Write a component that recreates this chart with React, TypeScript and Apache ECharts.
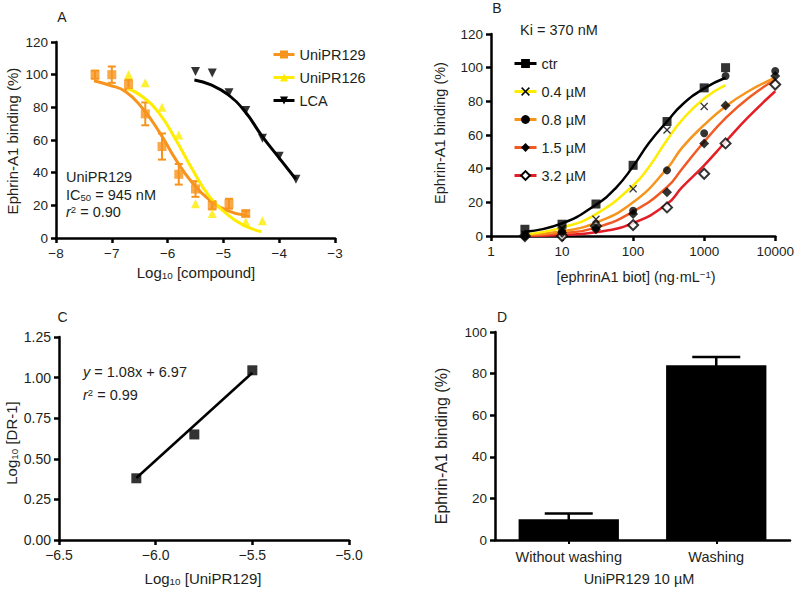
import React, { useEffect, useRef } from "react";
import * as echarts from "echarts";

const FONT = '"Liberation Sans", Arial, Helvetica, sans-serif';
const TXT = "#231f20";
const BLACK = "#000000";
const ORANGE = "#f7941d";
const YELLOW = "#ffec00";
const RED_ORANGE = "#f15a24";
const RED = "#e41e26";

// ---------- Panel A ----------
const aYTicks = { min: 0, max: 120, step: 20 };
const aXTicks = { min: -8, max: -3, step: 1 };
// [log10 conc, % binding, error]
const uni129Points = [
  [-7.3, 100, 2.5], [-7.0, 100, 5], [-6.7, 94, 3], [-6.4, 76, 7], [-6.1, 56, 8],
  [-5.8, 39, 6.3], [-5.5, 30, 4.8], [-5.2, 20, 2.5], [-4.9, 21, 3], [-4.6, 15, 1.5],
];
const uni129Fit = [
  [-7.32, 96.3], [-7.05, 93.7], [-6.75, 89.6], [-6.45, 79.4], [-6.15, 65],
  [-5.85, 47.8], [-5.55, 33.5], [-5.25, 23.3], [-4.95, 17.1], [-4.62, 14],
];
const uni126Points = [
  [-6.7, 100], [-6.4, 95], [-6.1, 80], [-5.8, 63], [-5.5, 21], [-5.2, 15], [-4.6, 10], [-4.3, 10.5],
];
const uni126Fit = [
  [-6.72, 91.7], [-6.45, 86.5], [-6.15, 76.3], [-5.85, 60], [-5.55, 41.6],
  [-5.25, 25.3], [-4.95, 15.1], [-4.65, 8], [-4.32, 3.9],
];
const lcaPoints = [
  [-5.5, 102], [-5.2, 101], [-4.9, 89], [-4.6, 78], [-4.3, 61], [-4.0, 50], [-3.7, 36],
];
const lcaFit = [
  [-5.52, 96.7], [-5.22, 93.7], [-4.91, 87.6], [-4.61, 77.3], [-4.32, 63], [-4.02, 49.8], [-3.7, 36],
];

// ---------- Panel B ----------
const bYTicks = { min: 0, max: 120, step: 20 };
const bXRange = { min: 1, max: 10000 };
const ctrPoints = [[3, 4], [10, 7], [30, 19], [100, 42], [300, 68], [1000, 88], [2000, 100]];
const ctrFit = [[3, 2.5], [10, 7.5], [30, 18.6], [57, 28.5], [100, 41.4], [167, 55.2], [300, 68], [490, 78], [1000, 87.7], [2000, 94]];
const c04Points = [[3, 1], [10, 4.5], [30, 10], [100, 28], [300, 63], [1000, 77]];
const c04Fit = [[3, 1], [10, 5], [30, 13], [100, 30], [167, 41], [300, 57], [490, 69], [1000, 81.7], [2000, 89.6]];
const c08Points = [[3, 0], [10, 3], [30, 5], [100, 15], [300, 39], [1000, 61], [2000, 95], [10000, 98]];
const c08Fit = [[3, 0.6], [10, 2.8], [30, 8], [100, 20], [300, 40], [490, 52.5], [1000, 66], [2000, 77], [4200, 86], [10000, 94]];
const c15Points = [[3, 0], [10, 2], [30, 4], [100, 13], [300, 26], [1000, 55], [2000, 77.5], [10000, 95]];
const c15Fit = [[3, 0.3], [10, 1.6], [30, 5], [100, 14.5], [300, 29], [490, 40], [1000, 56], [2000, 70], [4200, 82], [10000, 93]];
const c32Points = [[3, 0], [10, 0], [30, 6], [100, 6.5], [300, 17], [1000, 37], [2000, 55], [10000, 90]];
const c32Fit = [[3, 0], [10, 0.6], [30, 2.2], [100, 7.7], [300, 19], [490, 29], [1000, 42], [2000, 56], [4200, 70.7], [10000, 86]];

// ---------- Panel C ----------
const cYTicks = { min: 0, max: 1.25, step: 0.25 };
const cXTicks = { min: -6.5, max: -5.0, step: 0.5 };
const schildPoints = [[-6.1, 0.38], [-5.8, 0.65], [-5.5, 1.045]];
const schildLine = [[-6.1, 0.382], [-5.5, 1.03]];

// ---------- Panel D ----------
const dYTicks = { min: 0, max: 100, step: 20 };
const washCategories = ["Without washing", "Washing"];
const washValues = [10, 84];
const washErrors = [2.8, 4];

const minus = (s: string) => s.replace("-", "\u2212");

function errRender(color: string, capHalf: number, lw: number, lowerCap = true) {
  return (_params: any, api: any) => {
    const x = api.value(0);
    const y = api.value(1);
    const e = api.value(2);
    const hi = api.coord([x, y + e]);
    const lo = api.coord([x, y - e]);
    const st = { stroke: color, lineWidth: lw };
    const children: any[] = [
      { type: "line", shape: { x1: hi[0], y1: hi[1], x2: lo[0], y2: lo[1] }, style: st },
      { type: "line", shape: { x1: hi[0] - capHalf, y1: hi[1], x2: hi[0] + capHalf, y2: hi[1] }, style: st },
    ];
    if (lowerCap)
      children.push({ type: "line", shape: { x1: lo[0] - capHalf, y1: lo[1], x2: lo[0] + capHalf, y2: lo[1] }, style: st });
    return { type: "group", children };
  };
}

const X_SYMBOL = "path://M0,1.2L1.2,0L5,3.8L8.8,0L10,1.2L6.2,5L10,8.8L8.8,10L5,6.2L1.2,10L0,8.8L3.8,5Z";

function axisCommon(fontSize: number) {
  return {
    axisLine: { show: true, onZero: false, lineStyle: { color: BLACK, width: 2.5 } },
    axisTick: { show: true, length: 5, lineStyle: { color: BLACK, width: 2.5 } },
    axisLabel: { color: TXT, fontSize, fontFamily: FONT, margin: 8 },
    splitLine: { show: false },
  };
}

function rich(size: number) {
  return {
    n: { fontSize: size, fontFamily: FONT, fill: TXT, color: TXT, lineHeight: size + 1 },
    i: { fontSize: size, fontFamily: FONT, fill: TXT, color: TXT, fontStyle: "italic", lineHeight: size + 1 },
    sub: { fontSize: size * 0.66, fontFamily: FONT, fill: TXT, color: TXT, verticalAlign: "bottom", lineHeight: 8 },
    sup: { fontSize: size * 0.66, fontFamily: FONT, fill: TXT, color: TXT, verticalAlign: "top", lineHeight: 8 },
  };
}

function txt(x: number, y: number, text: string, size: number, align = "left", rotation = 0) {
  return {
    type: "text",
    x,
    y,
    rotation,
    silent: true,
    style: {
      text,
      rich: rich(size),
      fontSize: size,
      fontFamily: FONT,
      fill: TXT,
      align,
      textAlign: align,
      verticalAlign: "middle",
      textVerticalAlign: "middle",
    },
  };
}

function buildOption(): any {
  const lineBase = { smooth: true, showSymbol: false, silent: true, emphasis: { disabled: true } };
  return {
    animation: false,
    backgroundColor: "#ffffff",
    grid: [
      { left: 56, top: 42, width: 279, height: 196 },
      { left: 491, top: 34, width: 286, height: 202 },
      { left: 59, top: 337, width: 290, height: 203 },
      { left: 495, top: 332, width: 295, height: 208 },
    ],
    xAxis: [
      {
        gridIndex: 0, type: "value", min: aXTicks.min, max: aXTicks.max, interval: aXTicks.step,
        ...axisCommon(13.5),
        axisLabel: { color: TXT, fontSize: 13.5, fontFamily: FONT, margin: 8, formatter: (v: number) => minus(String(v)) },
      },
      {
        gridIndex: 1, type: "log", logBase: 10, min: bXRange.min, max: bXRange.max,
        ...axisCommon(13.5),
        axisLabel: { color: TXT, fontSize: 13.5, fontFamily: FONT, margin: 8, formatter: (v: number) => String(Math.round(v)) },
        minorTick: { show: false },
      },
      {
        gridIndex: 2, type: "value", min: cXTicks.min, max: cXTicks.max, interval: cXTicks.step,
        ...axisCommon(14),
        axisLabel: { color: TXT, fontSize: 14, fontFamily: FONT, margin: 8, formatter: (v: number) => minus(v.toFixed(1)) },
      },
      {
        gridIndex: 3, type: "category", data: washCategories, boundaryGap: true,
        axisLine: { show: true, onZero: false, lineStyle: { color: BLACK, width: 2.5 } },
        axisTick: { show: true, alignWithLabel: true, length: 4, lineStyle: { color: BLACK, width: 2 } },
        axisLabel: { color: TXT, fontSize: 14.5, fontFamily: FONT, margin: 9 },
        splitLine: { show: false },
      },
    ],
    yAxis: [
      { gridIndex: 0, type: "value", min: aYTicks.min, max: aYTicks.max, interval: aYTicks.step, ...axisCommon(13.5) },
      { gridIndex: 1, type: "value", min: bYTicks.min, max: bYTicks.max, interval: bYTicks.step, ...axisCommon(13.5) },
      {
        gridIndex: 2, type: "value", min: cYTicks.min, max: cYTicks.max, interval: cYTicks.step,
        ...axisCommon(14),
        axisLabel: { color: TXT, fontSize: 14, fontFamily: FONT, margin: 8, formatter: (v: number) => v.toFixed(2) },
      },
      { gridIndex: 3, type: "value", min: dYTicks.min, max: dYTicks.max, interval: dYTicks.step, ...axisCommon(13.5) },
    ],
    legend: [
      {
        data: ["UniPR129", "UniPR126", "LCA"],
        orient: "vertical", left: 272, top: 47, padding: 0,
        itemWidth: 21, itemHeight: 10, itemGap: 8,
        selectedMode: false,
        lineStyle: { width: 3 },
        textStyle: { color: TXT, fontSize: 14.5, fontFamily: FONT },
      },
      {
        data: ["ctr", "0.4 \u00b5M", "0.8 \u00b5M", "1.5 \u00b5M", "3.2 \u00b5M"],
        orient: "vertical", left: 513, top: 56, padding: 0,
        itemWidth: 22, itemHeight: 11, itemGap: 13,
        selectedMode: false,
        lineStyle: { width: 3 },
        textStyle: { color: TXT, fontSize: 14.5, fontFamily: FONT },
      },
    ],
    series: [
      // Panel A
      { type: "custom", name: "err129", xAxisIndex: 0, yAxisIndex: 0, data: uni129Points, renderItem: errRender(ORANGE, 4, 2), z: 2, silent: true },
      { type: "line", name: "UniPR129", xAxisIndex: 0, yAxisIndex: 0, data: uni129Fit, symbol: "rect", symbolSize: 9, lineStyle: { color: ORANGE, width: 3 }, itemStyle: { color: ORANGE }, z: 3, ...lineBase },
      { type: "line", name: "UniPR126", xAxisIndex: 0, yAxisIndex: 0, data: uni126Fit, symbol: "triangle", symbolSize: 9, lineStyle: { color: YELLOW, width: 3 }, itemStyle: { color: YELLOW }, z: 3, ...lineBase },
      { type: "line", name: "LCA", xAxisIndex: 0, yAxisIndex: 0, data: lcaFit, symbol: "triangle", symbolRotate: 180, symbolSize: 9, lineStyle: { color: BLACK, width: 3 }, itemStyle: { color: BLACK }, z: 3, ...lineBase },
      { type: "scatter", name: "pts129", xAxisIndex: 0, yAxisIndex: 0, data: uni129Points.map((p) => [p[0], p[1]]), symbol: "rect", symbolSize: 9, itemStyle: { color: ORANGE }, z: 4, silent: true },
      { type: "scatter", name: "pts126", xAxisIndex: 0, yAxisIndex: 0, data: uni126Points, symbol: "triangle", symbolSize: 9, itemStyle: { color: YELLOW }, z: 4, silent: true },
      { type: "scatter", name: "ptsLCA", xAxisIndex: 0, yAxisIndex: 0, data: lcaPoints, symbol: "triangle", symbolRotate: 180, symbolSize: 9, itemStyle: { color: BLACK }, z: 4, silent: true },

      // Panel B
      { type: "line", name: "3.2 \u00b5M", xAxisIndex: 1, yAxisIndex: 1, data: c32Fit, symbol: "emptyDiamond", symbolSize: 10, lineStyle: { color: RED, width: 2.5 }, itemStyle: { color: BLACK }, z: 3, ...lineBase },
      { type: "line", name: "1.5 \u00b5M", xAxisIndex: 1, yAxisIndex: 1, data: c15Fit, symbol: "diamond", symbolSize: 10, lineStyle: { color: RED_ORANGE, width: 2.5 }, itemStyle: { color: BLACK }, z: 3, ...lineBase },
      { type: "line", name: "0.8 \u00b5M", xAxisIndex: 1, yAxisIndex: 1, data: c08Fit, symbol: "circle", symbolSize: 8, lineStyle: { color: ORANGE, width: 2.5 }, itemStyle: { color: BLACK }, z: 3, ...lineBase },
      { type: "line", name: "0.4 \u00b5M", xAxisIndex: 1, yAxisIndex: 1, data: c04Fit, symbol: X_SYMBOL, symbolSize: 8, lineStyle: { color: YELLOW, width: 2.5 }, itemStyle: { color: BLACK }, z: 3, ...lineBase },
      { type: "line", name: "ctr", xAxisIndex: 1, yAxisIndex: 1, data: ctrFit, symbol: "rect", symbolSize: 9, lineStyle: { color: BLACK, width: 2.5 }, itemStyle: { color: BLACK }, z: 3, ...lineBase },
      { type: "scatter", name: "p32", xAxisIndex: 1, yAxisIndex: 1, data: c32Points, symbol: "emptyDiamond", symbolSize: 10, itemStyle: { color: BLACK, borderWidth: 1.5 }, z: 4, silent: true },
      { type: "scatter", name: "p15", xAxisIndex: 1, yAxisIndex: 1, data: c15Points, symbol: "diamond", symbolSize: 10, itemStyle: { color: BLACK }, z: 4, silent: true },
      { type: "scatter", name: "p08", xAxisIndex: 1, yAxisIndex: 1, data: c08Points, symbol: "circle", symbolSize: 8, itemStyle: { color: BLACK }, z: 4, silent: true },
      { type: "scatter", name: "p04", xAxisIndex: 1, yAxisIndex: 1, data: c04Points, symbol: X_SYMBOL, symbolSize: 8, itemStyle: { color: BLACK }, z: 4, silent: true },
      { type: "scatter", name: "pctr", xAxisIndex: 1, yAxisIndex: 1, data: ctrPoints, symbol: "rect", symbolSize: 9, itemStyle: { color: BLACK }, z: 4, silent: true },

      // Panel C
      { type: "line", name: "schildFit", xAxisIndex: 2, yAxisIndex: 2, data: schildLine, showSymbol: false, symbol: "none", lineStyle: { color: BLACK, width: 2.5 }, silent: true, z: 3 },
      { type: "scatter", name: "schildPts", xAxisIndex: 2, yAxisIndex: 2, data: schildPoints, symbol: "rect", symbolSize: 10, itemStyle: { color: BLACK }, silent: true, z: 4 },

      // Panel D
      { type: "bar", name: "wash", xAxisIndex: 3, yAxisIndex: 3, data: washValues, barWidth: "68%", itemStyle: { color: BLACK }, silent: true, z: 2 },
      {
        type: "custom", name: "washErr", xAxisIndex: 3, yAxisIndex: 3,
        data: washValues.map((v, i) => [i, v, washErrors[i]]),
        renderItem: errRender(BLACK, 24, 2.5, false), z: 3, silent: true,
      },
    ],
    graphic: [
      // Panel labels
      txt(62, 17, "A", 14, "center"),
      txt(497, 8, "B", 14, "center"),
      txt(62.5, 317, "C", 14, "center"),
      txt(502, 316.5, "D", 14, "center"),
      // Panel A annotations
      txt(66, 177, "{n|UniPR129}", 14.5),
      txt(66, 195, "{n|IC}{sub|50}{n| = 945 nM}", 14.5),
      txt(66, 212, "{i|r}{sup|2}{n| = 0.90}", 14.5),
      txt(12, 141, "Ephrin-A1 binding (%)", 15, "center", Math.PI / 2),
      txt(196, 272, "{n|Log}{sub|10}{n| [compound]}", 15, "center"),
      // Panel B
      txt(520, 30, "Ki = 370 nM", 14.5),
      txt(440, 133, "Ephrin-A1 binding (%)", 14.5, "center", Math.PI / 2),
      txt(636, 277, "{n|[ephrinA1 biot] (ng\u00b7mL}{sup|\u22121}{n|)}", 14.5, "center"),
      // Panel C
      txt(83, 372, "{i|y}{n| = 1.08x + 6.97}", 14.5),
      txt(83, 395, "{i|r}{sup|2}{n| = 0.99}", 14.5),
      txt(11.5, 443, "{n|Log}{sub|10}{n| [DR-1]}", 15, "center", Math.PI / 2),
      txt(203, 578, "{n|Log}{sub|10}{n| [UniPR129]}", 15, "center"),
      // Panel D
      txt(441.5, 446, "Ephrin-A1 binding (%)", 16, "center", Math.PI / 2),
      txt(639, 578.5, "UniPR129 10 \u00b5M", 14.5, "center"),
    ],
  };
}

export default function App() {
  const ref = useRef<HTMLDivElement | null>(null);
  useEffect(() => {
    if (!ref.current) return;
    const chart = echarts.init(ref.current, undefined, { renderer: "svg" });
    chart.setOption(buildOption());
    return () => chart.dispose();
  }, []);
  return (
    <div
      ref={ref}
      style={{ position: "absolute", left: 0, top: 0, width: 797, height: 589, background: "#fff" }}
    />
  );
}
